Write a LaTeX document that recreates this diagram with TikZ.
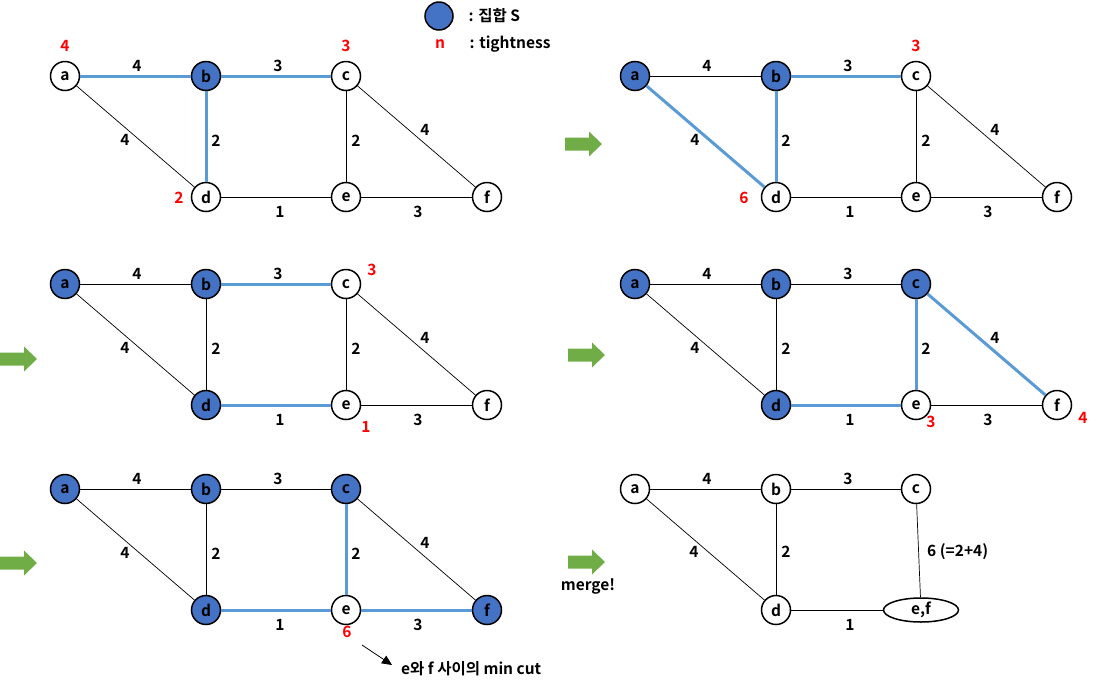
\documentclass[tikz,border=0pt]{standalone}
\usepackage{fontspec}
\setmainfont{Noto Sans CJK KR}[BoldFont={Noto Sans CJK KR Bold}]
\usetikzlibrary{arrows.meta,shapes.geometric}
\definecolor{setblue}{HTML}{4472C4}
\definecolor{edgeblue}{HTML}{5B9BD5}
\definecolor{arrowgreen}{HTML}{70AD47}
\definecolor{tred}{HTML}{FF0000}
\tikzset{
  every node/.style={font=\bfseries\fontsize{15.5}{18}\selectfont},
  v/.style={circle,draw,line width=1.5pt,minimum size=29pt,inner sep=0pt,fill=white},
  vs/.style={v,fill=setblue},
  th/.style={line width=0.7pt},
  bl/.style={line width=3pt,draw=edgeblue},
  wt/.style={inner sep=1pt},
  tg/.style={text=tred,inner sep=1pt},
  mergebox/.style={ellipse,draw,line width=1.5pt,minimum width=75pt,minimum height=24pt,inner sep=0pt,fill=white},
}
\newcommand\garrow[2]{\fill[arrowgreen] (#1,#2) ++(0,-6.5) -- ++(24,0) -- ++(0,-6) -- ++(13,12.5) -- ++(-13,12.5) -- ++(0,-6) -- ++(-24,0) -- cycle;}
\newcommand\gnodes[6]{%
  \node[#1] (a) at (65,76) {a};
  \node[#2] (b) at (206,76) {b};
  \node[#3] (c) at (346,76) {c};
  \node[#4] (d) at (206,197) {d};
  \node[#5] (e) at (346,197) {e};
  \node[#6] (f) at (487,197) {f};
}
\newcommand\gedges[8]{%
  \draw[#1] (a) -- (b); \node[wt] (wab) at (137,66) {4};
  \draw[#2] (b) -- (c); \node[wt] (wbc) at (278,66) {3};
  \draw[#3] (a) -- (d); \node[wt] (wad) at (125,140) {4};
  \draw[#4] (b) -- (d); \node[wt] (wbd) at (216,141) {2};
  \draw[#5] (c) -- (e); \node[wt] (wce) at (356,141) {2};
  \draw[#6] (c) -- (f); \node[wt] (wcf) at (425,130) {4};
  \draw[#7] (d) -- (e); \node[wt] (wde) at (280,212) {1};
  \draw[#8] (e) -- (f); \node[wt] (wef) at (418,212) {3};
}
\begin{document}
\begin{tikzpicture}[x=1pt,y=-1pt]
\useasboundingbox (0,0) rectangle (1104,689);
% legend
\node[vs,minimum width=28pt,minimum height=27pt] (lgS) at (439,16) {};
\node[anchor=west] (lgSt) at (465,16) {: 집합 S};
\node[tg] (lgn) at (440,44) {n};
\node[anchor=west] (lgnt) at (466,44) {: tightness};
% panel 1
\begin{scope}[name prefix=p1-]
  \gnodes{v}{vs}{v}{v}{v}{v}
  \gedges{bl}{bl}{th}{bl}{th}{th}{th}{th}
  \node[tg] (ta) at (65,46) {4};
  \node[tg] (tc) at (346,46) {3};
  \node[tg] (td) at (179,198) {2};
\end{scope}
% panel 2
\garrow{565}{144}
\begin{scope}[shift={(570,0)},name prefix=p2-]
  \gnodes{vs}{vs}{v}{v}{v}{v}
  \gedges{th}{bl}{bl}{bl}{th}{th}{th}{th}
  \node[tg] (tc) at (346,46) {3};
  \node[tg] (td) at (174,198) {6};
\end{scope}
% panel 3
\garrow{0}{359}
\begin{scope}[shift={(0,208)},name prefix=p3-]
  \gnodes{vs}{vs}{v}{vs}{v}{v}
  \gedges{th}{bl}{th}{th}{th}{th}{bl}{th}
  \node[tg] (tc) at (372,62) {3};
  \node[tg] (te) at (366,219) {1};
\end{scope}
% panel 4
\garrow{568}{355}
\begin{scope}[shift={(570,208)},name prefix=p4-]
  \gnodes{vs}{vs}{vs}{vs}{v}{v}
  \gedges{th}{th}{th}{th}{bl}{bl}{bl}{th}
  \node[tg] (te) at (361,214) {3};
  \node[tg] (tf) at (513,210) {4};
\end{scope}
% panel 5
\garrow{0}{563}
\begin{scope}[shift={(0,413)},name prefix=p5-]
  \gnodes{vs}{vs}{vs}{vs}{v}{vs}
  \gedges{th}{th}{th}{th}{bl}{th}{bl}{bl}
  \node[tg] (te) at (347,219) {6};
  \coordinate (ms) at (362,232);
  \coordinate (mt) at (392,252);
  \node[anchor=west,inner sep=0pt] (mc) at (401,256) {e와 f 사이의 min cut};
  \draw[line width=0.8pt,-{Triangle[width=9pt,length=10pt]}] (ms) -- (mt);
\end{scope}
% panel 6
\garrow{568}{562}
\node (mg) at (588,586) {merge!};
\begin{scope}[shift={(570,413)},name prefix=p6-]
  \node[v] (a) at (65,76) {a};
  \node[v] (b) at (206,76) {b};
  \node[v] (c) at (346,76) {c};
  \node[v] (d) at (206,197) {d};
  \node[mergebox] (ef) at (351,197) {e,f};
  \draw[th] (a) -- (b); \node[wt] (wab) at (137,66) {4};
  \draw[th] (b) -- (c); \node[wt] (wbc) at (278,66) {3};
  \draw[th] (a) -- (d); \node[wt] (wad) at (124,139) {4};
  \draw[th] (b) -- (d); \node[wt] (wbd) at (216,139) {2};
  \draw[th] (c) -- (ef); \node[wt,anchor=west] (wcef) at (356,139) {6 (=2+4)};
  \draw[th] (d) -- (ef); \node[wt] (wdef) at (280,212) {1};
\end{scope}
\end{tikzpicture}
\end{document}
